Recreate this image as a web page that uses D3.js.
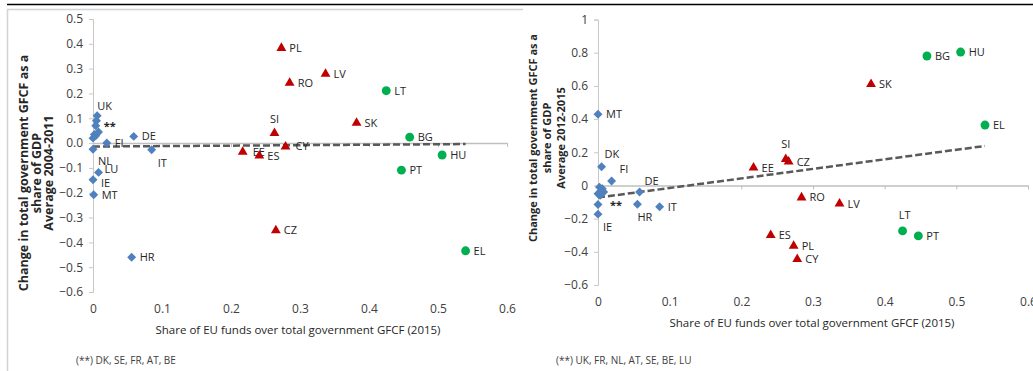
<!DOCTYPE html>
<html>
<head>
<meta charset="utf-8">
<script src="https://cdn.jsdelivr.net/npm/d3@7"></script>
<style>
  body { margin: 0; background: #fff; }
  svg { display: block; font-family: "Open Sans", sans-serif; }
</style>
</head>
<body>
<script>
// ---- data ----
// left panel: change 2004-2011
var leftBlueNames = ["UK", "", "**", "", "", "", "", "FI", "NL", "DE", "IT", "LU", "IE", "MT", "HR"];
var leftBlueX = [0.006, 0.005, 0.004, 0.008, 0.002, 0.000, 0.004, 0.020, 0.000, 0.059, 0.085, 0.008, 0.000, 0.001, 0.056];
var leftBlueY = [0.110, 0.090, 0.070, 0.045, 0.035, 0.020, 0.030, 0.000, -0.025, 0.027, -0.027, -0.118, -0.148, -0.208, -0.460];

var leftRedNames = ["PL", "RO", "LV", "SK", "SI", "CY", "EE", "ES", "CZ"];
var leftRedX = [0.273, 0.285, 0.337, 0.382, 0.263, 0.279, 0.217, 0.241, 0.265];
var leftRedY = [0.383, 0.242, 0.279, 0.081, 0.040, -0.014, -0.036, -0.051, -0.352];

var leftGreenNames = ["LT", "BG", "HU", "PT", "EL"];
var leftGreenX = [0.425, 0.459, 0.506, 0.447, 0.540];
var leftGreenY = [0.211, 0.024, -0.048, -0.109, -0.434];

var leftTrendX = [0, 0.54];
var leftTrendY = [-0.014, -0.004];

// right panel: change 2012-2015
var rightBlueNames = ["MT", "DK", "FI", "DE", "HR", "IT", "IE", "", "", "", "", "", "", "**"];
var rightBlueX = [0.000, 0.005, 0.019, 0.058, 0.055, 0.086, 0.000, 0.002, 0.006, 0.004, 0.000, 0.008, 0.003, 0.000];
var rightBlueY = [0.429, 0.113, 0.027, -0.039, -0.113, -0.128, -0.173, -0.010, -0.020, -0.035, -0.050, -0.040, -0.060, -0.115];

var rightRedNames = ["SK", "SI", "CZ", "EE", "RO", "LV", "ES", "PL", "CY"];
var rightRedX = [0.381, 0.262, 0.266, 0.217, 0.284, 0.337, 0.241, 0.273, 0.278];
var rightRedY = [0.610, 0.158, 0.143, 0.107, -0.073, -0.110, -0.300, -0.364, -0.445];

var rightGreenNames = ["BG", "HU", "EL", "LT", "PT"];
var rightGreenX = [0.459, 0.506, 0.540, 0.425, 0.447];
var rightGreenY = [0.780, 0.804, 0.364, -0.274, -0.304];

var rightTrendX = [0, 0.54];
var rightTrendY = [-0.073, 0.238];

var xTicks = [0, 0.1, 0.2, 0.3, 0.4, 0.5, 0.6];
var leftYTicks = [0.5, 0.4, 0.3, 0.2, 0.1, 0, -0.1, -0.2, -0.3, -0.4, -0.5, -0.6];
var rightYTicks = [1, 0.8, 0.6, 0.4, 0.2, 0, -0.2, -0.4, -0.6];

var xTitle = "Share of EU funds over total government GFCF (2015)";
var leftYTitle = ["Change in total government GFCF as a", "share of GDP", "Average 2004-2011"];
var rightYTitle = ["Change in total government GFCF as a", "share of GDP", "Average 2012-2015"];
var leftNote = "(**) DK, SE, FR, AT, BE";
var rightNote = "(**) UK, FR, NL, AT, SE, BE, LU";

// label placements that differ from "to the right"
var leftLabelPos = {
	"UK": [0, -10, "start"], "NL": [5, 12, "start"], "IT": [6, 13, "start"],
	"LU": [6, -3, "start"], "IE": [8, 3, "start"],
	"SI": [0, -14, "middle"], "CY": [10, 0, "start"], "EE": [10, 0, "start"]
};
var rightLabelPos = {
	"DK": [3, -13, "start"], "FI": [8, -12, "start"], "DE": [5, -11, "start"],
	"HR": [0, 13, "start"], "IE": [5, 13, "start"], "**": [12, 1, "start"],
	"SI": [0, -15, "middle"], "LT": [2, -16, "middle"]
};

var blue = "#4f81bd", red = "#c00000", green = "#00b050";

var width = 1033, height = 371;

var svg = d3.select("body").append("svg")
	.attr("width", width)
	.attr("height", height);

// frame lines
svg.append("line")
	.attr("x1", 7).attr("x2", width).attr("y1", 4.5).attr("y2", 4.5)
	.attr("stroke", "#000").attr("stroke-width", 1.5);
svg.append("path")
	.attr("d", "M7.5," + height + "V9.5H523")
	.attr("fill", "none").attr("stroke", "#d0d4d8").attr("stroke-width", 1.5);

function zip(names, xs, ys) {
	return names.map(function(n, i) { return { name: n, x: xs[i], y: ys[i] }; });
}

function drawPanel(p) {
	var x = d3.scaleLinear().domain([0, 0.6]).range(p.xRange);
	var y = d3.scaleLinear().domain(p.yDomain).range(p.yRange);
	var g = svg.append("g");

	// y axis
	var yAxis = g.append("g")
		.attr("transform", "translate(" + x(0) + ",0)")
		.call(d3.axisLeft(y).tickValues(p.yTicks).tickSize(4).tickPadding(6)
			.tickFormat(function(d) { return d === 0 ? p.zeroFmt : d3.format("")(d); }));
	yAxis.select(".domain").attr("stroke", "#c8c8c8").attr("stroke-width", 1);
	yAxis.selectAll(".tick line").attr("stroke", "#c8c8c8");
	yAxis.selectAll("text").attr("fill", "#404040").style("font-size", "12px").style("font-family", "Open Sans");

	// x axis on the zero line, labels at the bottom
	var xAxis = g.append("g")
		.attr("transform", "translate(0," + y(0) + ")")
		.call(d3.axisBottom(x).tickValues(xTicks).tickSize(4).tickSizeOuter(0)
			.tickFormat(function(d) { return d === 0 ? "0" : d3.format("")(d); }));
	xAxis.select(".domain").attr("stroke", "#bfbfbf").attr("stroke-width", 1.5);
	xAxis.selectAll(".tick line").attr("stroke", "#bfbfbf");
	xAxis.selectAll(".tick").filter(function(d) { return d === 0; }).select("line").remove();
	xAxis.selectAll("text")
		.attr("y", y(p.yDomain[0]) - y(0) + p.xLabelGap)
		.attr("fill", "#404040").style("font-size", "12px").style("font-family", "Open Sans");

	// trend line
	g.append("path")
		.datum(d3.zip(p.trendX, p.trendY))
		.attr("d", d3.line().x(function(d) { return x(d[0]); }).y(function(d) { return y(d[1]); }))
		.attr("fill", "none")
		.attr("stroke", "#595959")
		.attr("stroke-width", 2.5)
		.attr("stroke-dasharray", "7,3");

	var series = [
		{ data: p.blue, color: blue, shape: d3.symbolSquare, size: 40, rot: 45 },
		{ data: p.red, color: red, shape: d3.symbolTriangle, size: 42, rot: 0 },
		{ data: p.green, color: green, shape: d3.symbolCircle, size: 62, rot: 0 }
	];

	series.forEach(function(s) {
		var pts = g.append("g").selectAll("g")
			.data(s.data)
			.enter().append("g")
			.attr("transform", function(d) { return "translate(" + x(d.x) + "," + y(d.y) + ")"; });

		pts.append("path")
			.attr("d", d3.symbol().type(s.shape).size(s.size))
			.attr("transform", "rotate(" + s.rot + ")")
			.attr("fill", s.color);

		pts.filter(function(d) { return d.name !== ""; })
			.append("text")
			.attr("x", function(d) { return (p.labelPos[d.name] || [8])[0]; })
			.attr("y", function(d) { return (p.labelPos[d.name] || [8, 0])[1]; })
			.attr("dy", "0.35em")
			.attr("text-anchor", function(d) { return (p.labelPos[d.name] || [8, 0, "start"])[2]; })
			.attr("fill", "#262626")
			.style("font-size", "11px")
			.style("font-weight", function(d) { return d.name === "**" ? "bold" : "normal"; })
			.text(function(d) { return d.name; });
	});

	// y title
	var yt = g.append("text")
		.attr("transform", "translate(" + p.yTitleX + "," + p.yTitleY + ") rotate(-90)")
		.attr("text-anchor", "middle")
		.attr("fill", "#262626")
		.style("font-size", p.yTitleSize + "px")
		.style("font-weight", "bold");
	p.yTitle.forEach(function(t, i) {
		yt.append("tspan").attr("x", 0).attr("y", i * p.yTitleStep).text(t);
	});

	// x title
	g.append("text")
		.attr("x", (p.xRange[0] + p.xRange[1]) / 2 - p.xTitleShift)
		.attr("y", p.xTitleY)
		.attr("text-anchor", "middle")
		.attr("fill", "#262626")
		.style("font-size", "11.5px")
		.text(xTitle);

	// footnote
	g.append("text")
		.attr("x", p.noteX)
		.attr("y", 364)
		.attr("fill", "#404040")
		.style("font-size", "10px")
		.text(p.note);
}

drawPanel({
	xRange: [93, 507], yDomain: [-0.6, 0.5], yRange: [292, 19],
	yTicks: leftYTicks, zeroFmt: "0.0", xLabelGap: 12,
	blue: zip(leftBlueNames, leftBlueX, leftBlueY),
	red: zip(leftRedNames, leftRedX, leftRedY),
	green: zip(leftGreenNames, leftGreenX, leftGreenY),
	trendX: leftTrendX, trendY: leftTrendY,
	labelPos: leftLabelPos,
	yTitle: leftYTitle, yTitleX: 28, yTitleY: 173, yTitleSize: 12.5, yTitleStep: 12.5,
	xTitleShift: 2, xTitleY: 334,
	note: leftNote, noteX: 76
});

drawPanel({
	xRange: [598, 1028], yDomain: [-0.6, 1], yRange: [285, 19.5],
	yTicks: rightYTicks, zeroFmt: "0", xLabelGap: 12,
	blue: zip(rightBlueNames, rightBlueX, rightBlueY),
	red: zip(rightRedNames, rightRedX, rightRedY),
	green: zip(rightGreenNames, rightGreenX, rightGreenY),
	trendX: rightTrendX, trendY: rightTrendY,
	labelPos: rightLabelPos,
	yTitle: rightYTitle, yTitleX: 537, yTitleY: 138, yTitleSize: 11, yTitleStep: 14,
	xTitleShift: 1, xTitleY: 327,
	note: rightNote, noteX: 556
});
</script>
</body>
</html>
